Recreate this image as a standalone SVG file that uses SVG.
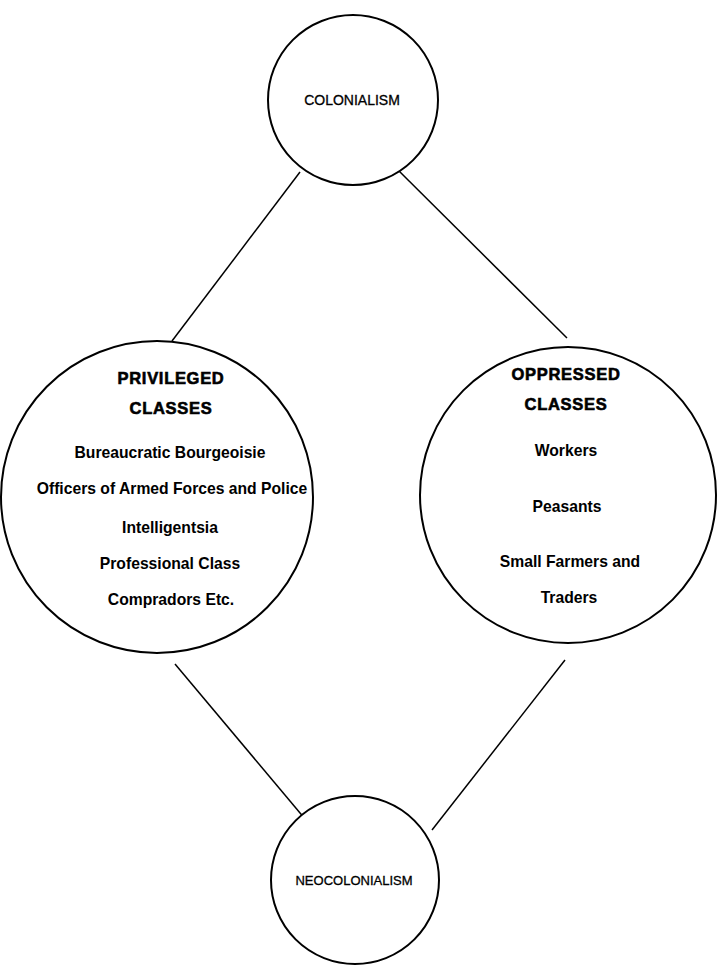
<svg xmlns="http://www.w3.org/2000/svg" width="717" height="965" viewBox="0 0 717 965">
<style>
.c{fill:#fff;stroke:#000;stroke-width:2}
.l{stroke:#000;stroke-width:1.5;fill:none}
.t{font-family:"Liberation Sans",Arial,sans-serif;font-size:15.7px;text-anchor:middle;fill:#000}
.n{font-size:14px;stroke:#000;stroke-width:0.3}
.b{font-weight:bold}
.h{font-family:"Liberation Sans",Arial,sans-serif;font-size:16.5px;font-weight:bold;text-anchor:middle;fill:#000;stroke:#000;stroke-width:0.6;letter-spacing:0.7px}
</style>
<rect width="717" height="965" fill="#fff"/>
<g id="connectors">
<line class="l" x1="300" y1="172" x2="172" y2="341"/>
<line class="l" x1="398" y1="170" x2="567" y2="338"/>
<line class="l" x1="175" y1="664" x2="316" y2="832"/>
<line class="l" x1="565" y1="660" x2="432" y2="830"/>
</g>
<g id="colonialism">
<circle class="c" cx="353" cy="100" r="85"/>
<text class="t n" x="352" y="105">COLONIALISM</text>
</g>
<g id="privileged">
<circle class="c" cx="157" cy="497" r="156"/>
<text class="h" x="171" y="384">PRIVILEGED</text>
<text class="h" x="171" y="414">CLASSES</text>
<text class="t b" x="170" y="458">Bureaucratic Bourgeoisie</text>
<text class="t b" x="172" y="494">Officers of Armed Forces and Police</text>
<text class="t b" x="170" y="533">Intelligentsia</text>
<text class="t b" x="170" y="569">Professional Class</text>
<text class="t b" x="171" y="605">Compradors Etc.</text>
</g>
<g id="oppressed">
<circle class="c" cx="568" cy="495" r="148"/>
<text class="h" x="566" y="380">OPPRESSED</text>
<text class="h" x="566" y="410">CLASSES</text>
<text class="t b" x="566" y="456">Workers</text>
<text class="t b" x="567" y="512">Peasants</text>
<text class="t b" x="570" y="567">Small Farmers and</text>
<text class="t b" x="569" y="603">Traders</text>
</g>
<g id="neocolonialism">
<circle class="c" cx="355" cy="880" r="84"/>
<text class="t n" x="354" y="885" style="font-size:13px">NEOCOLONIALISM</text>
</g>
</svg>
